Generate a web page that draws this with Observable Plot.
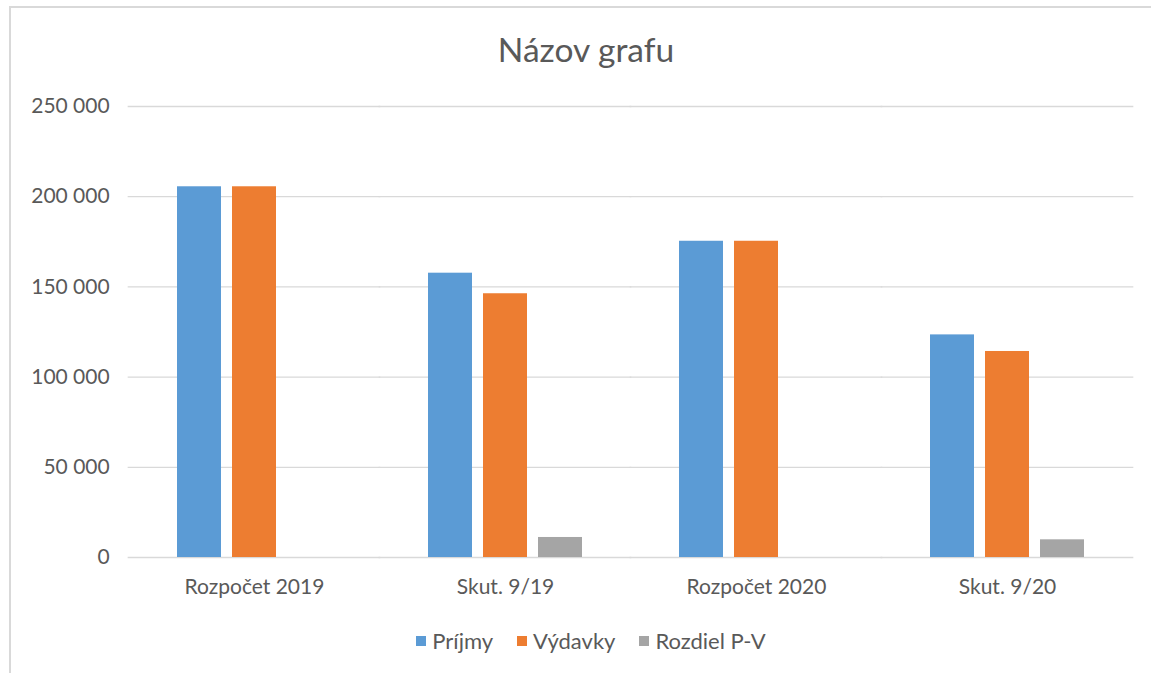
<!DOCTYPE html>
<html>
<head>
<meta charset="utf-8">
<script src="https://cdn.jsdelivr.net/npm/d3@7"></script>
<script src="https://cdn.jsdelivr.net/npm/@observablehq/plot@0.6"></script>
<style>
  html, body { margin: 0; padding: 0; background: #fff; }
  body { width: 1151px; height: 673px; position: relative; overflow: hidden; font-family: Lato, "Open Sans", sans-serif; color: #595959; }
  #frame { position: absolute; left: 9px; top: 6px; width: 1200px; height: 700px; border-left: 2px solid #d9d9d9; border-top: 2px solid #d9d9d9; box-sizing: border-box; }
  #title { position: absolute; left: 0; width: 1172px; top: 29px; text-align: center; font-size: 33.5px; line-height: 40px; color: #595959; }
  #chart { position: absolute; left: 0; top: 0; }
  #legend { position: absolute; left: 0; width: 1182px; top: 627px; display: flex; justify-content: center; gap: 24px; font-size: 22px; line-height: 28px; }
  .item { display: flex; align-items: center; gap: 6px; }
  .sw { width: 10px; height: 10px; display: inline-block; }
</style>
</head>
<body>
<div id="frame"></div>
<div id="title">Názov grafu</div>
<div id="chart"></div>
<div id="legend"></div>
<script>
const categories = ["Rozpočet 2019", "Skut. 9/19", "Rozpočet 2020", "Skut. 9/20"];
const series = ["Príjmy", "Výdavky", "Rozdiel P-V"];
const colors = ["#5B9BD5", "#ED7D31", "#A5A5A5"];
const prijmy = [205500, 157600, 175300, 123400];
const vydavky = [205500, 146200, 175300, 114200];
const rozdiel = [null, 11100, null, 9800];
const yTicks = [0, 50000, 100000, 150000, 200000, 250000];

const values = [prijmy, vydavky, rozdiel];
const data = [];
categories.forEach((c, i) => {
  series.forEach((s, j) => {
    const v = values[j][i];
    if (v != null) data.push({cat: c, series: s, value: v});
  });
});

const fmt = d3.formatLocale({decimal: ",", thousands: " ", grouping: [3], currency: ["", ""]}).format(",d");

const W = 1151, mL = 126, mR = 17;
const fxPadInner = 0.339, fxPadOuter = 0.17;
const step = (W - mL - mR) / (categories.length - fxPadInner + 2 * fxPadOuter);
const outerOffset = fxPadOuter * step;
const gridInset = -Math.max(outerOffset, fxPadInner * step / 2) - 0.5;

const chart = Plot.plot({
  width: W,
  height: 610,
  marginLeft: mL,
  marginRight: mR,
  marginTop: 106,
  marginBottom: 53,
  style: {fontFamily: "Lato, 'Open Sans', sans-serif", fontSize: "21px", color: "#595959", background: "transparent"},
  fx: {domain: categories, paddingInner: fxPadInner, paddingOuter: fxPadOuter, label: null},
  x: {domain: series, paddingInner: 0.2, paddingOuter: 0.1, axis: null},
  y: {domain: [0, 250000], label: null},
  color: {domain: series, range: colors},
  marks: [
    Plot.ruleY(yTicks, {y: d => d, stroke: "#d9d9d9", strokeWidth: 1.3, insetLeft: gridInset, insetRight: gridInset}),
    Plot.axisY({ticks: yTicks, tickSize: 0, tickPadding: 19 + outerOffset, tickFormat: fmt, label: null, fill: "#595959"}),
    Plot.barY(data, {fx: "cat", x: "series", y: "value", fill: "series"}),
    Plot.axisFx({anchor: "bottom", tickSize: 0, tickPadding: 22, label: null, fill: "#595959"})
  ]
});
document.getElementById("chart").appendChild(chart);

const legend = document.getElementById("legend");
series.forEach((s, i) => {
  const it = document.createElement("div");
  it.className = "item";
  const sw = document.createElement("span");
  sw.className = "sw";
  sw.style.background = colors[i];
  const t = document.createElement("span");
  t.textContent = s;
  it.appendChild(sw);
  it.appendChild(t);
  legend.appendChild(it);
});
</script>
</body>
</html>
